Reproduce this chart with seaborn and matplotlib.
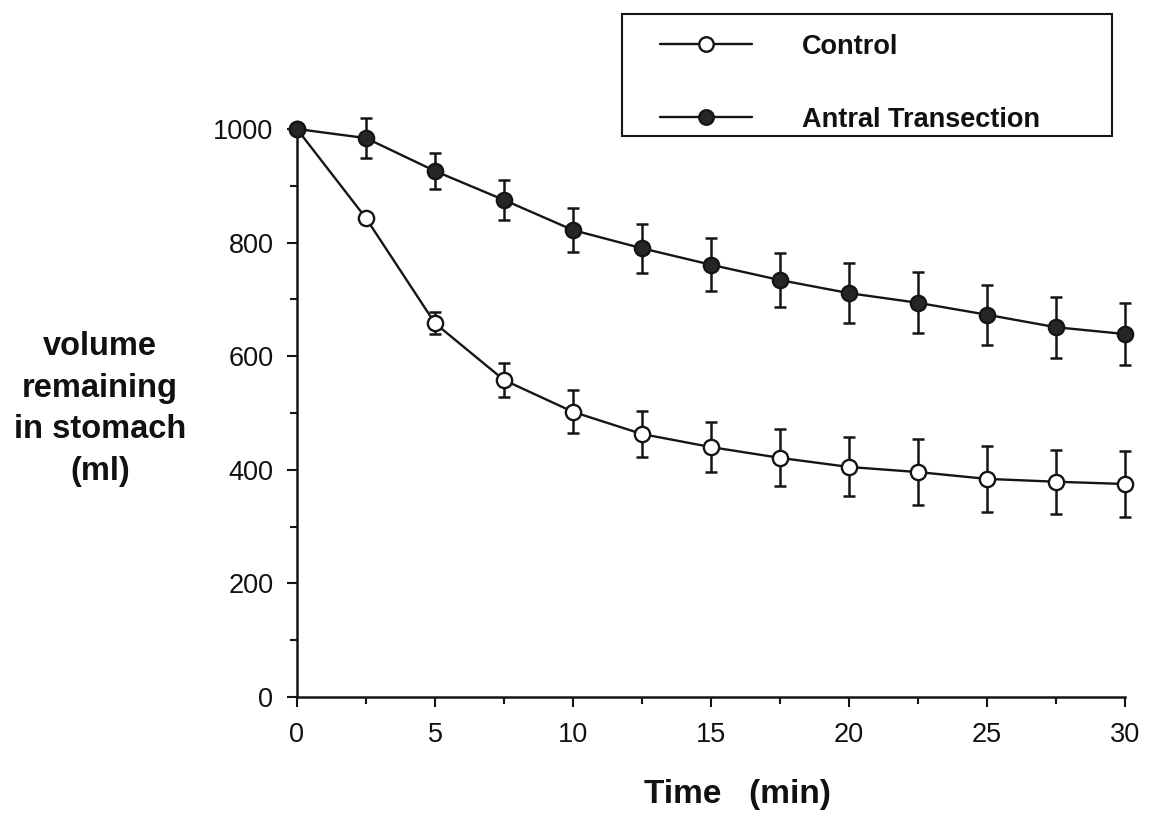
import matplotlib
matplotlib.use("Agg")
import matplotlib.pyplot as plt
import seaborn as sns
import numpy as np
import pandas as pd
from matplotlib.ticker import MultipleLocator
from matplotlib.patches import Rectangle

time_min = [0, 2.5, 5, 7.5, 10, 12.5, 15, 17.5, 20, 22.5, 25, 27.5, 30]
control_mean = [1000, 843, 658, 558, 502, 463, 440, 421, 405, 396, 384, 379, 375]
control_err = [0, 0, 19, 30, 38, 40, 44, 50, 52, 58, 58, 56, 58]
antral_mean = [1000, 984, 926, 875, 822, 790, 761, 734, 711, 694, 673, 651, 639]
antral_err = [0, 35, 32, 36, 39, 43, 47, 48, 53, 54, 53, 54, 55]
x_ticks = [0, 5, 10, 15, 20, 25, 30]
y_ticks = [0, 200, 400, 600, 800, 1000]

sns.set_style("ticks")
plt.rcParams['font.family'] = ['Liberation Sans', 'DejaVu Sans']
plt.rcParams['text.color'] = '#111111'
plt.rcParams['axes.labelcolor'] = '#111111'
plt.rcParams['xtick.color'] = '#111111'
plt.rcParams['ytick.color'] = '#111111'

fig = plt.figure(figsize=(11.5, 8.13), dpi=100)
ax = fig.add_axes([297/1150, 1-697/813, (1125-297)/1150, (697-129)/813])

dfc = pd.DataFrame({"t": time_min, "v": control_mean})
dfa = pd.DataFrame({"t": time_min, "v": antral_mean})

line_col = "#151515"
ax.errorbar(time_min, control_mean, yerr=control_err, fmt="none", ecolor=line_col,
            elinewidth=1.8, capsize=4, capthick=1.8, zorder=2, clip_on=False)
ax.errorbar(time_min, antral_mean, yerr=antral_err, fmt="none", ecolor=line_col,
            elinewidth=1.8, capsize=4, capthick=1.8, zorder=2, clip_on=False)

sns.lineplot(data=dfc, x="t", y="v", ax=ax, color=line_col, linewidth=1.7,
             marker="o", markersize=11, markerfacecolor="white",
             markeredgecolor=line_col, markeredgewidth=1.7, label="Control",
             zorder=3, clip_on=False)
sns.lineplot(data=dfa, x="t", y="v", ax=ax, color=line_col, linewidth=1.7,
             marker="o", markersize=11, markerfacecolor="#262626",
             markeredgecolor=line_col, markeredgewidth=1.7, label="Antral Transection",
             zorder=3, clip_on=False)

ax.set_xlim(0, 30)
ax.set_ylim(0, 1000)
ax.set_xticks(x_ticks)
ax.set_yticks(y_ticks)
ax.xaxis.set_minor_locator(MultipleLocator(2.5))
ax.yaxis.set_minor_locator(MultipleLocator(100))
ax.tick_params(axis="both", which="major", direction="out", length=7, width=1.5,
               labelsize=19.5, color=line_col)
ax.tick_params(axis="x", which="major", pad=11)
ax.tick_params(axis="y", which="major", pad=10)
ax.tick_params(axis="both", which="minor", direction="out", length=5, width=1.5,
               color=line_col)
sns.despine(ax=ax)
for s in ["left", "bottom"]:
    ax.spines[s].set_linewidth(1.8)
    ax.spines[s].set_color(line_col)

ax.set_xlabel("")
ax.set_ylabel("")
fig.text(737/1150, 1-794/813, "Time   (min)", ha="center", va="center",
         fontsize=24, fontweight="bold")
fig.text(100/1150, 1-409/813, "volume\nremaining\nin stomach\n(ml)", ha="center",
         va="center", fontsize=23.5, fontweight="bold", linespacing=1.44)

# legend frame box
fig.patches.append(Rectangle((622/1150, 1-136/813), (1112-622)/1150, (136-14)/813,
                             transform=fig.transFigure, fill=False,
                             edgecolor=line_col, linewidth=1.5))

leg = ax.legend(loc="upper left", bbox_to_anchor=(660/1150, 1-33.5/813),
                bbox_transform=fig.transFigure, borderaxespad=0,
                frameon=False, prop={"weight": "bold", "size": 19.5},
                handlelength=3.4, handletextpad=1.85, labelspacing=1.75,
                borderpad=0, markerscale=0.95)

fig.savefig("out.png", dpi=100, facecolor="white")
